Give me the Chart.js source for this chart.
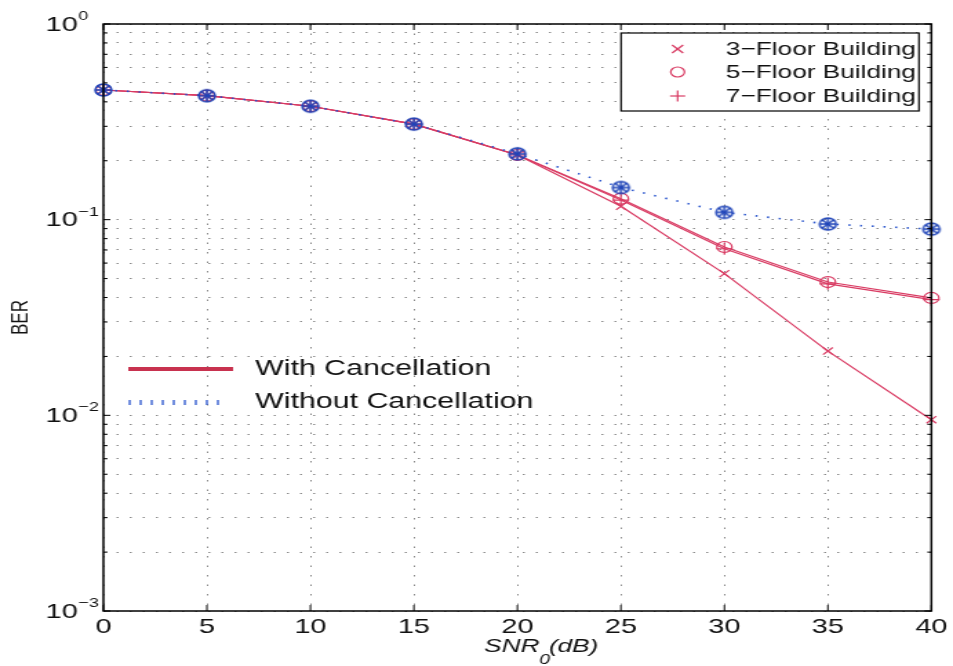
<!DOCTYPE html>
<html>
<head>
<meta charset="utf-8">
<script src="https://cdn.jsdelivr.net/npm/chart.js@4"></script>
<style>
	html, body { margin: 0; padding: 0; background: #fff; }
	#chart { display: block; }
</style>
</head>
<body>
<!-- the reference is stretched sideways, so the canvas is too -->
<canvas id="chart" width="691" height="666" style="width: 953px; height: 666px;"></canvas>
<script>
const snr = [0, 5, 10, 15, 20, 25, 30, 35, 40]
const berWithout = [0.46, 0.43, 0.38, 0.308, 0.217, 0.146, 0.109, 0.095, 0.0895]
const ber3Floor = [0.46, 0.43, 0.38, 0.308, 0.214, 0.117, 0.053, 0.0213, 0.0095]
const ber5Floor = [0.46, 0.43, 0.38, 0.308, 0.214, 0.128, 0.0725, 0.048, 0.0398]
const ber7Floor = [0.46, 0.43, 0.38, 0.308, 0.214, 0.126, 0.071, 0.047, 0.039]

const yMajorTicks = [0.001, 0.01, 0.1, 1]
const yMajorExps = ['−3', '−2', '−1', '0']
const floorLabels = ['3−Floor Building', '5−Floor Building', '7−Floor Building']
const methodLabels = ['With Cancellation', 'Without Cancellation']
const xTitleParts = ['SNR', '0', '(dB)']

const RED = '#d93b63'
const BLUE = '#2753cc'
const MARKER_BLUE = '#1f44b8'
const FONT = '"Liberation Sans", Arial, sans-serif'

// every tick of the log axis: decades plus the 2..9 minor steps
const yAllTicks = []
for (let e = -3; e < 0; e++) {
	for (let m = 1; m < 10; m++) yAllTicks.push(m * Math.pow(10, e))
}
yAllTicks.push(1)

// blue marker: circle with an asterisk inside
function starCircle(r, color) {
	const c = document.createElement('canvas')
	const s = Math.ceil(r * 2 + 4)
	c.width = s
	c.height = s
	const g = c.getContext('2d')
	const m = s / 2
	g.strokeStyle = color
	g.lineWidth = 1.5
	g.beginPath()
	g.arc(m, m, r, 0, Math.PI * 2)
	g.stroke()
	for (let k = 0; k < 4; k++) {
		const a = (k * Math.PI) / 4
		g.beginPath()
		g.moveTo(m - Math.cos(a) * r, m - Math.sin(a) * r)
		g.lineTo(m + Math.cos(a) * r, m + Math.sin(a) * r)
		g.stroke()
	}
	return c
}

const toPoints = (arr) => arr.map((v, i) => ({ x: snr[i], y: v }))

function line(ctx, x1, y1, x2, y2) {
	ctx.beginPath()
	ctx.moveTo(x1, y1)
	ctx.lineTo(x2, y2)
	ctx.stroke()
}

const frameAndLegends = {
	id: 'frameAndLegends',
	afterDraw(chart) {
		const { ctx, chartArea: a, scales } = chart
		const xs = scales.x
		const ys = scales.y
		ctx.save()

		// inward tick marks on all four sides
		ctx.strokeStyle = '#000'
		ctx.lineWidth = 1
		xs.ticks.forEach((t) => {
			const px = xs.getPixelForValue(t.value)
			line(ctx, px, a.bottom, px, a.bottom - 6)
			line(ctx, px, a.top, px, a.top + 6)
		})
		ys.ticks.forEach((t) => {
			const py = ys.getPixelForValue(t.value)
			const len = yMajorTicks.includes(t.value) ? 5 : 3
			line(ctx, a.left, py, a.left + len, py)
			line(ctx, a.right, py, a.right - len, py)
		})

		ctx.lineWidth = 1.5
		ctx.strokeRect(a.left, a.top, a.right - a.left, a.bottom - a.top)

		// y labels: 10 with a raised exponent
		ctx.fillStyle = '#111'
		ctx.textAlign = 'left'
		yMajorTicks.forEach((v, i) => {
			const py = ys.getPixelForValue(v)
			ctx.font = '21px ' + FONT
			ctx.textBaseline = 'middle'
			ctx.fillText('10', 33, py + 1)
			const w = ctx.measureText('10').width
			ctx.font = '13px ' + FONT
			ctx.textBaseline = 'alphabetic'
			ctx.fillText(yMajorExps[i], 33 + w + 0.5, py - 4)
		})

		// x title with subscript
		let tx = 351
		ctx.font = 'italic 19px ' + FONT
		ctx.fillText(xTitleParts[0], tx, 652)
		tx += ctx.measureText(xTitleParts[0]).width
		ctx.font = 'italic 14px ' + FONT
		ctx.fillText(xTitleParts[1], tx, 664)
		tx += ctx.measureText(xTitleParts[1]).width - 1
		ctx.font = 'italic 19px ' + FONT
		ctx.fillText(xTitleParts[2], tx, 652)

		// boxed legend, top right
		const bx = a.right - 225
		const by = a.top + 9
		ctx.fillStyle = '#fff'
		ctx.fillRect(bx, by, 216, 78)
		ctx.lineWidth = 1.2
		ctx.strokeStyle = '#000'
		ctx.strokeRect(bx, by, 216, 78)

		const mx = bx + 41
		const rows = [by + 16, by + 39, by + 63]
		ctx.strokeStyle = RED
		ctx.lineWidth = 1.2
		let r = 4
		line(ctx, mx - r, rows[0] - r, mx + r, rows[0] + r)
		line(ctx, mx - r, rows[0] + r, mx + r, rows[0] - r)
		ctx.beginPath()
		ctx.arc(mx, rows[1], 5, 0, Math.PI * 2)
		ctx.stroke()
		r = 5.5
		line(ctx, mx - r, rows[2], mx + r, rows[2])
		line(ctx, mx, rows[2] - r, mx, rows[2] + r)

		ctx.fillStyle = '#111'
		ctx.font = '19px ' + FONT
		ctx.textBaseline = 'middle'
		floorLabels.forEach((lab, i) => ctx.fillText(lab, bx + 76, rows[i] + 1))

		// line-style legend, no box
		const lx = a.left + 18
		ctx.strokeStyle = '#c8324f'
		ctx.lineWidth = 4
		line(ctx, lx, 369, lx + 76, 369)
		ctx.strokeStyle = BLUE
		ctx.lineWidth = 1.3
		for (let k = 0; k < 9; k++) {
			const px = lx + 1 + k * 8
			line(ctx, px, 400, px, 405)
		}
		ctx.font = '22px ' + FONT
		ctx.fillText(methodLabels[0], lx + 92, 369)
		ctx.fillText(methodLabels[1], lx + 92, 402)

		ctx.restore()
	},
}

new Chart(document.getElementById('chart'), {
	type: 'line',
	data: {
		datasets: [
			{
				label: 'Without Cancellation',
				data: toPoints(berWithout),
				borderColor: BLUE,
				borderWidth: 1.6,
				borderDash: [1.5, 7],
				pointStyle: starCircle(6, MARKER_BLUE),
				clip: false,
			},
			{
				label: floorLabels[0],
				data: toPoints(ber3Floor),
				borderColor: RED,
				borderWidth: 1.2,
				pointStyle: 'crossRot',
				pointRadius: 5,
				pointBorderColor: RED,
				pointBorderWidth: 1.2,
				clip: false,
			},
			{
				label: floorLabels[1],
				data: toPoints(ber5Floor),
				borderColor: RED,
				borderWidth: 1.2,
				pointStyle: 'circle',
				pointRadius: 5.5,
				pointBackgroundColor: 'rgba(0,0,0,0)',
				pointBorderColor: RED,
				pointBorderWidth: 1.2,
				clip: false,
			},
			{
				label: floorLabels[2],
				data: toPoints(ber7Floor),
				borderColor: RED,
				borderWidth: 1.2,
				pointStyle: 'cross',
				pointRadius: 6,
				pointBorderColor: RED,
				pointBorderWidth: 1.2,
				clip: false,
			},
		],
	},
	options: {
		responsive: false,
		animation: false,
		layout: { padding: { top: 24, right: 10, left: 0, bottom: 0 } },
		plugins: {
			legend: { display: false },
			tooltip: { enabled: false },
		},
		scales: {
			x: {
				type: 'linear',
				min: 0,
				max: 40,
				afterFit: (scale) => {
					scale.height = 55
				},
				ticks: {
					stepSize: 5,
					padding: 4,
					color: '#111',
					font: { family: FONT, size: 21 },
				},
				grid: { color: '#8a8a8a', lineWidth: 1, drawTicks: false },
				border: { display: false, dash: [1.5, 8] },
			},
			y: {
				type: 'logarithmic',
				min: 0.001,
				max: 1,
				afterFit: (scale) => {
					scale.width = 75
				},
				afterBuildTicks: (scale) => {
					scale.ticks = yAllTicks.map((v) => ({ value: v }))
				},
				ticks: { display: false },
				grid: { color: '#8a8a8a', lineWidth: 1, drawTicks: false },
				border: { display: false, dash: [1.5, 8] },
				title: {
					display: true,
					text: 'BER',
					color: '#111',
					padding: { top: 5, bottom: 0 },
					font: { family: FONT, size: 17 },
				},
			},
		},
	},
	plugins: [frameAndLegends],
})
</script>
</body>
</html>
